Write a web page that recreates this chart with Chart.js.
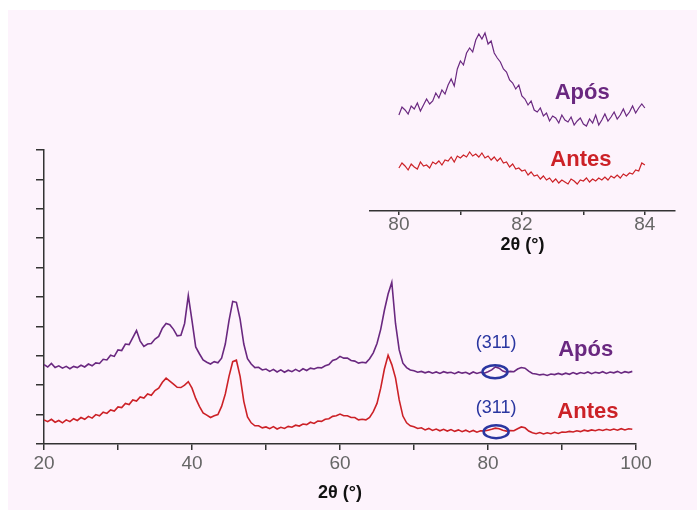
<!DOCTYPE html>
<html>
<head>
<meta charset="utf-8">
<script src="https://cdn.jsdelivr.net/npm/chart.js@4/dist/chart.umd.min.js"></script>
<style>
  body { margin: 0; background: #fff; }
  #wrap { position: relative; width: 697px; height: 510px; overflow: hidden; }
  #bg { position: absolute; left: 8px; top: 10px; right: 0; bottom: 0; background: #fdf3fc; }
  #main { position: absolute; left: 0; top: 0; }
  #inset { position: absolute; left: 360px; top: 0; }
</style>
</head>
<body>
<div id="wrap">
  <div id="bg"></div>
  <canvas id="main" width="697" height="510"></canvas>
  <canvas id="inset" width="337" height="270"></canvas>
</div>
<script>
// main pattern, 2theta in degrees
const mainX = [
  20, 20.5, 21, 21.5, 22, 22.5, 23, 23.5, 24, 24.5, 25, 25.5, 26, 26.5, 27, 27.5, 28, 28.5, 29, 29.5,
  30, 30.5, 31, 31.5, 32, 32.5, 33, 33.5, 34, 34.5, 35, 35.5, 36, 36.5, 37, 37.5, 38, 38.5, 39, 39.5,
  40, 40.5, 41, 41.5, 42, 42.5, 43, 43.5, 44, 44.5, 45, 45.5, 46, 46.5, 47, 47.5, 48, 48.5, 49, 49.5,
  50, 50.5, 51, 51.5, 52, 52.5, 53, 53.5, 54, 54.5, 55, 55.5, 56, 56.5, 57, 57.5, 58, 58.5, 59, 59.5,
  60, 60.5, 61, 61.5, 62, 62.5, 63, 63.5, 64, 64.5, 65, 65.5, 66, 66.5, 67, 67.5, 68, 68.5, 69, 69.5,
  70, 70.5, 71, 71.5, 72, 72.5, 73, 73.5, 74, 74.5, 75, 75.5, 76, 76.5, 77, 77.5, 78, 78.5, 79, 79.5,
  80, 80.5, 81, 81.5, 82, 82.5, 83, 83.5, 84, 84.5, 85, 85.5, 86, 86.5, 87, 87.5, 88, 88.5, 89, 89.5,
  90, 90.5, 91, 91.5, 92, 92.5, 93, 93.5, 94, 94.5, 95, 95.5, 96, 96.5, 97, 97.5, 98, 98.5, 99, 99.5
];
const aposMain = [
  2.70, 2.62, 2.74, 2.60, 2.66, 2.58, 2.64, 2.56, 2.64, 2.60, 2.68, 2.62, 2.72, 2.66, 2.76, 2.74, 2.88, 2.86, 3.02, 2.98,
  3.20, 3.18, 3.40, 3.38, 3.62, 3.86, 3.50, 3.32, 3.40, 3.42, 3.57, 3.66, 3.94, 4.10, 4.06, 3.90, 3.68, 3.70, 4.10, 5.05,
  4.20, 3.30, 3.07, 2.86, 2.78, 2.72, 2.80, 2.76, 2.92, 3.40, 4.20, 4.85, 4.82, 4.25, 3.40, 2.90, 2.72, 2.60, 2.61, 2.52,
  2.55, 2.47, 2.54, 2.45, 2.52, 2.44, 2.51, 2.46, 2.54, 2.47, 2.56, 2.50, 2.58, 2.55, 2.60, 2.59, 2.66, 2.70, 2.84, 2.88,
  2.98, 2.92, 2.92, 2.84, 2.82, 2.75, 2.78, 2.76, 2.90, 3.10, 3.42, 3.90, 4.55, 5.10, 5.50, 4.10, 3.20, 2.75, 2.60, 2.52,
  2.49, 2.44, 2.47, 2.42, 2.46, 2.41, 2.45, 2.40, 2.46, 2.42, 2.44, 2.39, 2.45, 2.41, 2.44, 2.38, 2.45, 2.40, 2.44, 2.41,
  2.46, 2.52, 2.62, 2.58, 2.48, 2.44, 2.47, 2.46, 2.55, 2.60, 2.58, 2.48, 2.40, 2.38, 2.35, 2.37, 2.33, 2.38, 2.36, 2.40,
  2.36, 2.41, 2.37, 2.43, 2.38, 2.43, 2.40, 2.45, 2.39, 2.44, 2.41, 2.46, 2.40, 2.45, 2.42, 2.47, 2.41, 2.46, 2.43, 2.47
];
const antesMain = [
  0.82, 0.76, 0.84, 0.74, 0.80, 0.72, 0.82, 0.76, 0.86, 0.80, 0.90, 0.84, 0.94, 0.88, 1.00, 0.96, 1.08, 1.04, 1.16, 1.12,
  1.26, 1.24, 1.38, 1.34, 1.50, 1.46, 1.60, 1.56, 1.70, 1.66, 1.82, 1.90, 2.10, 2.24, 2.14, 2.04, 1.93, 1.92, 2.00, 2.12,
  1.90, 1.55, 1.28, 1.06, 0.98, 0.90, 0.96, 1.00, 1.28, 1.70, 2.30, 2.80, 2.85, 2.30, 1.45, 0.92, 0.72, 0.62, 0.62, 0.55,
  0.58, 0.52, 0.59, 0.51, 0.57, 0.53, 0.60, 0.57, 0.64, 0.61, 0.68, 0.66, 0.74, 0.70, 0.78, 0.77, 0.84, 0.86, 0.94, 0.96,
  1.02, 0.96, 0.96, 0.90, 0.90, 0.82, 0.84, 0.82, 0.90, 1.10, 1.38, 1.90, 2.55, 3.02, 2.70, 2.25, 1.50, 0.95, 0.72, 0.62,
  0.59, 0.53, 0.55, 0.48, 0.53, 0.46, 0.51, 0.45, 0.50, 0.44, 0.49, 0.43, 0.48, 0.42, 0.47, 0.41, 0.46, 0.40, 0.45, 0.44,
  0.47, 0.50, 0.54, 0.52, 0.47, 0.44, 0.46, 0.45, 0.52, 0.58, 0.55, 0.44, 0.38, 0.35, 0.39, 0.34, 0.38, 0.35, 0.40, 0.36,
  0.41, 0.40, 0.43, 0.41, 0.45, 0.42, 0.47, 0.44, 0.48, 0.45, 0.49, 0.46, 0.50, 0.47, 0.51, 0.47, 0.52, 0.48, 0.52, 0.50
];
const mainTicks = [20, 30, 40, 50, 60, 70, 80, 90, 100];

// zoom on the (311) reflection
const insetX = [
  80.00, 80.05, 80.10, 80.15, 80.20, 80.25, 80.30, 80.35, 80.40, 80.45, 80.50, 80.55, 80.60, 80.65, 80.70, 80.75, 80.80, 80.85, 80.90, 80.95,
  81.00, 81.05, 81.10, 81.15, 81.20, 81.25, 81.30, 81.35, 81.40, 81.45, 81.50, 81.55, 81.60, 81.65, 81.70, 81.75, 81.80, 81.85, 81.90, 81.95,
  82.00, 82.05, 82.10, 82.15, 82.20, 82.25, 82.30, 82.35, 82.40, 82.45, 82.50, 82.55, 82.60, 82.65, 82.70, 82.75, 82.80, 82.85, 82.90, 82.95,
  83.00, 83.05, 83.10, 83.15, 83.20, 83.25, 83.30, 83.35, 83.40, 83.45, 83.50, 83.55, 83.60, 83.65, 83.70, 83.75, 83.80, 83.85, 83.90, 83.95,
  84.00
];
const aposInset = [
  9.6, 10.4, 10.1, 9.7, 10.5, 10.2, 10.8, 10.0, 10.6, 11.2, 10.7, 11.0, 11.8, 11.3, 12.1, 11.7, 12.6, 13.2, 12.5, 14.2,
  15.0, 14.6, 15.8, 16.3, 15.9, 17.1, 17.7, 17.2, 17.8, 16.7, 17.0, 15.8, 15.3, 14.9, 14.2, 13.9, 13.1, 12.8, 12.2, 12.6,
  11.5, 11.2, 10.6, 11.0, 10.1, 9.9, 10.3, 9.5, 9.8, 9.0, 9.5, 9.3, 8.8, 9.6, 9.1, 8.9, 9.4, 8.6, 9.0, 9.3,
  8.7, 8.5, 9.2, 8.8, 9.6, 8.6, 9.1, 9.7, 9.0, 9.4, 9.9, 9.2, 9.6, 10.2, 9.5, 9.9, 10.5, 9.8, 10.3, 10.7,
  10.3
];
const antesInset = [
  4.3, 4.8, 4.5, 4.1, 4.7, 4.4, 4.2, 4.9, 4.5, 4.6, 4.3, 4.9, 4.7, 5.0, 4.6, 5.1, 5.0, 5.4, 4.9, 5.5,
  5.3, 5.6, 5.4, 5.9, 5.5, 5.7, 5.4, 5.8, 5.3, 5.5, 5.1, 5.4, 5.0, 5.3, 4.8, 4.9, 4.4, 4.7, 4.2, 4.3,
  4.0, 4.1, 3.6, 3.9, 3.5, 3.6, 3.2, 3.5, 3.1, 3.3, 2.9, 3.2, 2.8, 3.1, 2.9, 2.7, 3.2, 3.0, 2.7, 3.1,
  3.0, 3.3, 2.9, 3.2, 3.0, 3.3, 3.1, 3.4, 3.1, 3.5, 3.3, 3.6, 3.3, 3.7, 3.5, 3.8, 3.7, 4.1, 4.0, 4.8,
  4.6
];
const insetTicks = [80, 81, 82, 83, 84];

const purple = '#6a2880';
const red = '#cc2127';
const blue = '#2a36a0';
const axisColor = '#333';
const fam = '"Liberation Sans", Arial, sans-serif';

const pts = (xs, ys) => xs.map((x, i) => ({ x: x, y: ys[i] }));

// text labels and circles drawn in data coordinates
const notes = {
  id: 'notes',
  afterDatasetsDraw(chart, args, opts) {
    const { ctx, scales: { x, y } } = chart;
    ctx.save();
    (opts.rings || []).forEach(r => {
      ctx.beginPath();
      ctx.ellipse(x.getPixelForValue(r.x), y.getPixelForValue(r.y), r.rx, r.ry, 0, 0, Math.PI * 2);
      ctx.strokeStyle = blue;
      ctx.lineWidth = 2.5;
      ctx.stroke();
    });
    (opts.labels || []).forEach(l => {
      ctx.font = l.font;
      ctx.fillStyle = l.color;
      ctx.textAlign = 'center';
      ctx.textBaseline = 'middle';
      ctx.fillText(l.text, x.getPixelForValue(l.x), y.getPixelForValue(l.y));
    });
    ctx.restore();
  }
};

new Chart(document.getElementById('main'), {
  type: 'line',
  data: {
    datasets: [
      { label: 'Após', data: pts(mainX, aposMain), borderColor: purple, borderWidth: 1.6, pointRadius: 0 },
      { label: 'Antes', data: pts(mainX, antesMain), borderColor: red, borderWidth: 1.6, pointRadius: 0 },
    ],
  },
  plugins: [notes],
  options: {
    responsive: false,
    animation: false,
    events: [],
    layout: { padding: { left: 34, top: 150, right: 61, bottom: 0 } },
    plugins: {
      legend: { display: false },
      tooltip: { enabled: false },
      notes: {
        rings: [
          { x: 80.95, y: 2.46, rx: 12.5, ry: 6.5 },
          { x: 81.1, y: 0.42, rx: 12.5, ry: 6.5 },
        ],
        labels: [
          { text: '(311)', x: 81.1, y: 3.44, color: blue, font: '18px ' + fam },
          { text: '(311)', x: 81.1, y: 1.22, color: blue, font: '18px ' + fam },
          { text: 'Após', x: 93.2, y: 3.2, color: purple, font: 'bold 22px ' + fam },
          { text: 'Antes', x: 93.5, y: 1.09, color: red, font: 'bold 22px ' + fam },
        ],
      },
    },
    scales: {
      x: {
        type: 'linear',
        min: 20,
        max: 100,
        afterFit(s) { s.height = 66; },
        afterBuildTicks(s) { s.ticks = mainTicks.map(v => ({ value: v })); },
        ticks: {
          callback: v => (v % 20 === 0 ? v : ''),
          font: { size: 19, family: fam },
          color: '#666',
          padding: 2,
          maxRotation: 0,
          autoSkip: false,
        },
        grid: { drawOnChartArea: false, tickLength: 6, color: axisColor, lineWidth: 1.5 },
        border: { color: axisColor, width: 1.5 },
        title: {
          display: true,
          text: '2θ (°)',
          font: { size: 18, weight: 'bold', family: fam },
          color: '#111',
          padding: { top: 0, bottom: 6 },
        },
      },
      y: {
        min: 0,
        max: 10,
        afterFit(s) { s.width = 10; },
        ticks: { display: false, stepSize: 1 },
        grid: { drawOnChartArea: false, tickLength: 8, color: axisColor, lineWidth: 1.5 },
        border: { color: axisColor, width: 1.5 },
      },
    },
  },
});

new Chart(document.getElementById('inset'), {
  type: 'line',
  data: {
    datasets: [
      { label: 'Após', data: pts(insetX, aposInset), borderColor: purple, borderWidth: 1.2, pointRadius: 0 },
      { label: 'Antes', data: pts(insetX, antesInset), borderColor: red, borderWidth: 1.2, pointRadius: 0 },
    ],
  },
  plugins: [notes],
  options: {
    responsive: false,
    animation: false,
    events: [],
    layout: { padding: { left: 10, top: 21, right: 22, bottom: 0 } },
    plugins: {
      legend: { display: false },
      tooltip: { enabled: false },
      notes: {
        labels: [
          { text: 'Após', x: 82.98, y: 11.8, color: purple, font: 'bold 22px ' + fam },
          { text: 'Antes', x: 82.96, y: 5.1, color: red, font: 'bold 22px ' + fam },
        ],
      },
    },
    scales: {
      x: {
        type: 'linear',
        min: 79.53,
        max: 84.49,
        afterFit(s) { s.height = 59; },
        afterBuildTicks(s) { s.ticks = insetTicks.map(v => ({ value: v })); },
        ticks: {
          callback: v => (v % 2 === 0 ? v : ''),
          font: { size: 19, family: fam },
          color: '#666',
          padding: -2,
          maxRotation: 0,
          autoSkip: false,
        },
        grid: { drawOnChartArea: false, tickLength: 4, color: axisColor, lineWidth: 1.5 },
        border: { color: axisColor, width: 1.5 },
        title: {
          display: true,
          text: '2θ (°)',
          font: { size: 18, weight: 'bold', family: fam },
          color: '#111',
          padding: { top: 0, bottom: 14 },
        },
      },
      y: { display: false, min: 0, max: 19 },
    },
  },
});
</script>
</body>
</html>
